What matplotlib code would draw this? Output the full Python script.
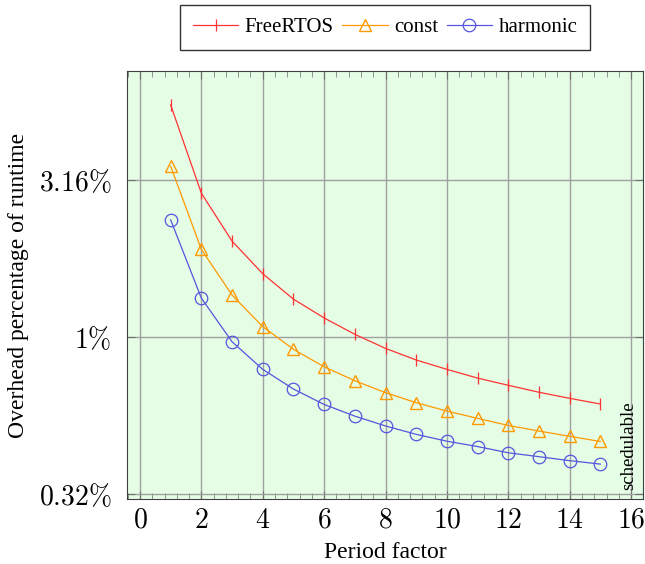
import numpy as np
import matplotlib
matplotlib.use('Agg')
import matplotlib.pyplot as plt
from matplotlib.ticker import FixedLocator, MultipleLocator, NullLocator

plt.rcParams['font.family'] = ['Liberation Serif', 'DejaVu Serif']
plt.rcParams['mathtext.fontset'] = 'cm'

period = [1, 2, 3, 4, 5, 6, 7, 8, 9, 10, 11, 12, 13, 14, 15]
freertos = [5.48, 2.87, 2.02, 1.59, 1.32, 1.15, 1.02, 0.92, 0.845, 0.789, 0.74, 0.702, 0.667, 0.638, 0.612]
const = [3.50, 1.90, 1.36, 1.079, 0.914, 0.804, 0.726, 0.665, 0.618, 0.581, 0.551, 0.523, 0.502, 0.483, 0.465]
harmonic = [2.36, 1.33, 0.966, 0.789, 0.683, 0.610, 0.56, 0.521, 0.49, 0.466, 0.448, 0.428, 0.416, 0.404, 0.394]

yticks = [10 ** -0.5, 1.0, 10 ** 0.5]
ylabels = [r'$0.32\%$', r'$1\%$', r'$3.16\%$']
xticks = [0, 2, 4, 6, 8, 10, 12, 14, 16]

fig = plt.figure(figsize=(6.45, 5.64), dpi=100)
ax = fig.add_axes([0.197, 0.1152, 0.8, 0.759])
ax.set_facecolor('#e5fde5')

ax.plot(period, freertos, color='#ff3333', lw=0.9, marker='|', ms=9, mew=0.9, label='FreeRTOS')
ax.plot(period, const, color='#ff9900', lw=0.9, marker='^', ms=8, mfc='none', mew=1.0, label='const')
ax.plot(period, harmonic, color='#5555dd', lw=0.9, marker='o', ms=9, mfc='none', mew=0.9, label='harmonic')

ax.set_yscale('log')
ax.set_xlim(-0.42, 16.39)
ax.set_ylim(0.305, 7.03)
ax.yaxis.set_major_locator(FixedLocator(yticks))
ax.set_yticklabels(ylabels, fontsize=20)
ax.yaxis.set_minor_locator(NullLocator())
ax.set_xticks(xticks)
ax.set_xticklabels(['$%d$' % t for t in xticks], fontsize=20)
ax.xaxis.set_minor_locator(MultipleLocator(0.4))

ax.grid(True, which='major', color='#a0a0a0', lw=1.0)
ax.tick_params(axis='both', which='major', direction='in', length=6, color='#707070',
               top=True, right=True)
ax.tick_params(axis='x', which='major', pad=7)
ax.tick_params(axis='y', which='major', pad=11)
ax.tick_params(axis='x', which='minor', direction='in', length=4, color='#808080', top=True)
for s in ax.spines.values():
    s.set_color('#404040')

ax.set_xlabel('Period factor', fontsize=17, labelpad=6)
ax.set_ylabel('Overhead percentage of runtime', fontsize=17, labelpad=7)

ax.text(15.92, 0.325, 'schedulable', rotation=90, ha='center', va='bottom', fontsize=13.5)

leg = ax.legend(loc='lower center', bbox_to_anchor=(0.5, 1.049), ncol=3, fontsize=15,
                frameon=True, fancybox=False, edgecolor='black', handlelength=2.2,
                handletextpad=0.3, columnspacing=0.4, borderpad=0.6, borderaxespad=0)
leg.get_frame().set_linewidth(1.0)

fig.savefig('out.png', dpi=100)
